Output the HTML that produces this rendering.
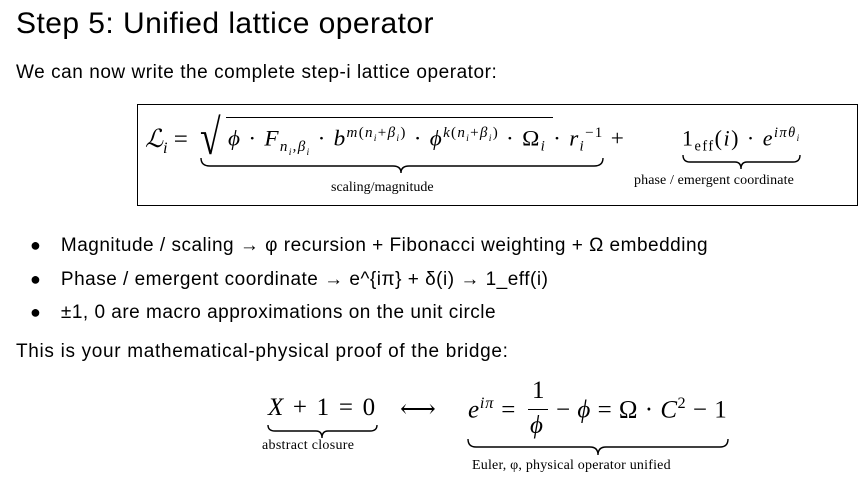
<!DOCTYPE html>
<html><head><meta charset="utf-8"><style>
body{margin:0;width:865px;height:483px;background:#fff;position:relative;overflow:hidden;font-family:"Liberation Sans","DejaVu Sans",sans-serif;color:#000}
.a{position:absolute;white-space:nowrap}
.m{font-family:"Liberation Serif","DejaVu Serif",serif}
i{font-style:italic}
sub,sup{font-size:65%}
</style></head><body>
<div class="a" style="left:16px;top:7px;font-size:30px;letter-spacing:0.45px">Step 5: Unified lattice operator</div>
<div class="a" style="left:16px;top:62px;font-size:19px;letter-spacing:0.55px">We can now write the complete step-i lattice operator:</div>
<div class="a" style="left:137px;top:104px;width:719px;height:100px;border:1px solid #000"></div>
<div class="a m" style="left:145px;top:124px;font-size:25px"><i>ℒ<sub>i</sub></i> =</div>
<div class="a m" style="left:200px;top:108px;font-size:50px;transform:scaleX(0.75);transform-origin:left">√</div>
<div class="a" style="left:226px;top:117px;width:327px;border-top:1.3px solid #000"></div>
<div class="a m" style="left:228px;top:125px;font-size:22px;letter-spacing:1.2px;transform:scaleX(1.055);transform-origin:left"><i>ϕ</i> · <i>F</i><sub><i>n<sub>i</sub></i>,<i>β<sub>i</sub></i></sub> · <i>b</i><sup><i>m</i>(<i>n<sub>i</sub></i>+<i>β<sub>i</sub></i>)</sup> · <i>ϕ</i><sup><i>k</i>(<i>n<sub>i</sub></i>+<i>β<sub>i</sub></i>)</sup> · Ω<sub><i>i</i></sub> · <i>r</i><sub><i>i</i></sub><sup>−1</sup> +</div>
<div class="a m" style="left:682px;top:125px;font-size:22px;letter-spacing:1.5px">1<sub>eff</sub>(<i>i</i>) · <i>e</i><sup><i>iπθ<sub>i</sub></i></sup></div>
<svg class="a" style="left:0;top:0" width="865" height="483" fill="none" stroke="#000" stroke-width="1.4">
<path d="M201 158 Q201 166 210 166 L393 166 Q401 166 401 173 Q401 166 409 166 L594 166 Q603 166 603 158"/>
<path d="M683 155 Q683 162 690 162 L735 162 Q741 162 741 169 Q741 162 747 162 L793 162 Q800 162 800 155"/>
<path d="M268 425 Q268 431 275 431 L316 431 Q322 431 322 438 Q322 431 328 431 L370 431 Q377 431 377 425"/>
<path d="M468 439 Q468 447 476 447 L590 447 Q598 447 598 455 Q598 447 606 447 L720 447 Q728 447 728 439"/>
</svg>
<div class="a m" style="left:331px;top:180px;font-size:14px">scaling/magnitude</div>
<div class="a m" style="left:634px;top:173px;font-size:14px;letter-spacing:0.1px">phase / emergent coordinate</div>
<div class="a" style="left:30px;top:229px;font-size:18px;line-height:32.5px">
<div>●&nbsp;&nbsp;&nbsp;&nbsp;<span style="font-size:19px;letter-spacing:0.5px">Magnitude / scaling → φ recursion + Fibonacci weighting + Ω embedding</span></div>
<div>●&nbsp;&nbsp;&nbsp;&nbsp;<span style="font-size:19px;letter-spacing:0.5px">Phase / emergent coordinate → e^{iπ} + δ(i) → 1_eff(i)</span></div>
<div>●&nbsp;&nbsp;&nbsp;&nbsp;<span style="font-size:19px;letter-spacing:0.5px">±1, 0 are macro approximations on the unit circle</span></div>
</div>
<div class="a" style="left:16px;top:341px;font-size:19px;letter-spacing:0.68px">This is your mathematical-physical proof of the bridge:</div>
<div class="a m" style="left:268px;top:394px;font-size:25px;letter-spacing:1.7px"><i>X</i> + 1 = 0</div>
<div class="a m" style="left:400px;top:394px;font-size:25px">⟷</div>
<div class="a m" style="left:468px;top:394px;font-size:25px;letter-spacing:0.8px"><i>e</i><sup><i>iπ</i></sup> =</div>
<div class="a m" style="left:532px;top:377px;font-size:25px">1</div>
<div class="a" style="left:528px;top:409px;width:20px;border-top:1.3px solid #000"></div>
<div class="a m" style="left:530px;top:412px;font-size:25px"><i>ϕ</i></div>
<div class="a m" style="left:556px;top:394px;font-size:25px;letter-spacing:0.5px">− <i>ϕ</i> = Ω · <i>C</i><sup>2</sup> − 1</div>
<div class="a m" style="left:262px;top:438px;font-size:14px;letter-spacing:0.3px">abstract closure</div>
<div class="a m" style="left:472px;top:458px;font-size:14px;letter-spacing:0.2px">Euler, φ, physical operator unified</div>
</body></html>
